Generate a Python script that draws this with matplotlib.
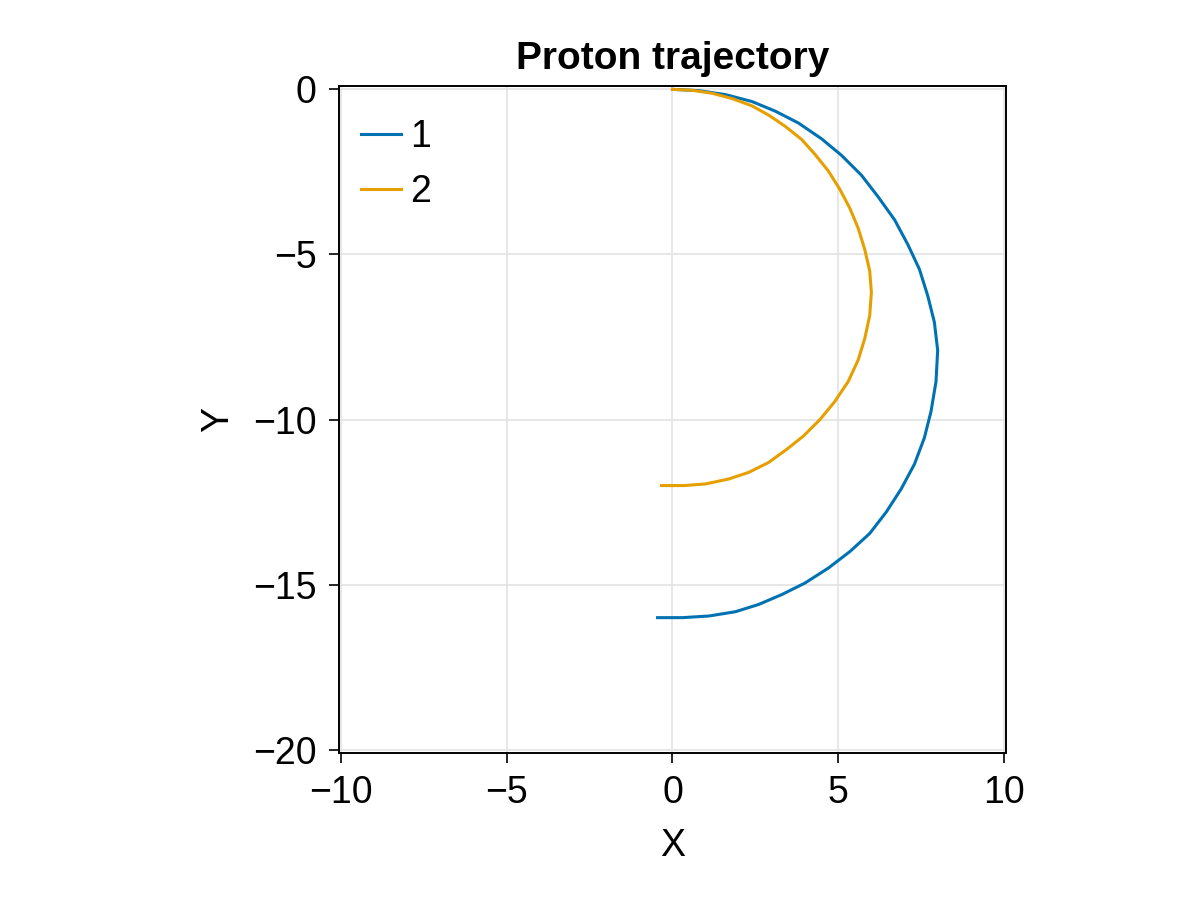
import matplotlib.pyplot as plt

plt.rcParams['font.family'] = ['Liberation Sans', 'DejaVu Sans']

# trajectory 1
x1 = [0.0, 0.8, 1.6, 2.4, 3.1, 3.8, 4.5, 5.1, 5.7, 6.2, 6.7, 7.1, 7.45, 7.7, 7.9, 8.0,
      7.95, 7.8, 7.6, 7.3, 6.9, 6.45, 5.95, 5.35, 4.7, 4.0, 3.3, 2.6, 1.9, 1.1, 0.3, -0.45]
y1 = [0.0, -0.04, -0.16, -0.37, -0.66, -1.02, -1.5, -2.0, -2.6, -3.25, -3.95, -4.7, -5.45, -6.25, -7.05, -7.9,
      -8.85, -9.75, -10.55, -11.35, -12.1, -12.8, -13.45, -14.0, -14.5, -14.95, -15.3, -15.6, -15.82, -15.95, -16.0, -16.0]

# trajectory 2
x2 = [0.0, 0.6, 1.2, 1.8, 2.4, 2.9, 3.4, 3.9, 4.3, 4.7, 5.05, 5.35, 5.6, 5.8, 5.95, 6.0,
      5.95, 5.8, 5.6, 5.3, 4.9, 4.45, 3.95, 3.45, 2.9, 2.3, 1.7, 1.0, 0.35, -0.33]
y2 = [0.0, -0.03, -0.12, -0.28, -0.5, -0.78, -1.12, -1.52, -1.97, -2.47, -3.03, -3.6, -4.2, -4.85, -5.5, -6.15,
      -6.85, -7.55, -8.2, -8.85, -9.45, -10.0, -10.5, -10.9, -11.3, -11.6, -11.8, -11.95, -12.0, -12.0]

labels = ['1', '2']
colors = ['#0072B2', '#E69F00']

fig = plt.figure(figsize=(12, 9), dpi=100)
ax = fig.add_axes([0.2825, 0.1633, 0.5558, 0.7411])

ax.plot(x1, y1, color=colors[0], lw=2.2, label=labels[0])
ax.plot(x2, y2, color=colors[1], lw=2.2, label=labels[1])

ax.set_xlim(-10.06, 10.06)
ax.set_ylim(-20.1, 0.1)
ax.set_xticks([-10, -5, 0, 5, 10])
ax.set_yticks([-20, -15, -10, -5, 0])
ax.grid(True, color='#e3e3e3', lw=1.2)
ax.set_axisbelow(True)
for s in ax.spines.values():
    s.set_linewidth(1.4)
ax.tick_params(labelsize=27, length=7, width=1.2, pad=9)

ax.set_title('Proton trajectory', fontsize=28, fontweight='bold', pad=12)
ax.set_xlabel('X', fontsize=27, labelpad=12)
ax.set_ylabel('Y', fontsize=27, labelpad=12)

ax.legend(loc='upper left', bbox_to_anchor=(0, 0.984), frameon=False, fontsize=27,
          handlelength=1.05, handletextpad=0.25, labelspacing=0.5,
          borderaxespad=0.3, borderpad=0.3)

fig.savefig('out.png', dpi=100)
